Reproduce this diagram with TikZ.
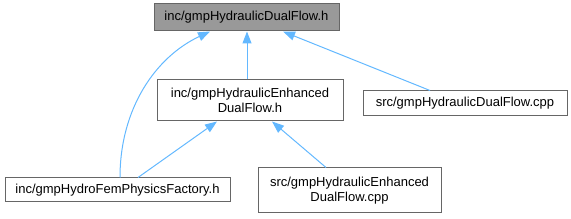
\documentclass[tikz,border=0pt]{standalone}
\usepackage{fontspec}
\setmainfont{Liberation Sans}
\usetikzlibrary{arrows.meta}
\definecolor{edgeblue}{HTML}{63B8FF}
\definecolor{boxborder}{HTML}{666666}
\definecolor{curfill}{HTML}{999999}
\tikzset{
  filebox/.style={draw=boxborder, line width=1pt, fill=white, inner sep=0pt, align=center,
    font=\fontsize{13}{15}\selectfont},
  curbox/.style={filebox, fill=curfill},
  dep/.style={draw=edgeblue, line width=1pt, -{Triangle[length=12pt,width=9pt]}},
}
\begin{document}
\begin{tikzpicture}[x=1pt,y=-1pt]
\useasboundingbox (0,0) rectangle (571,219);
\node[curbox, minimum width=185pt, minimum height=27pt] (top) at (246.5,17.5) {inc/gmpHydraulicDualFlow.h};
\node[filebox, minimum width=186pt, minimum height=41pt] (mid) at (250,100.5) {inc/gmpHydraulicEnhanced\\DualFlow.h};
\node[filebox, minimum width=204pt, minimum height=25pt] (right) at (465,103.5) {src/gmpHydraulicDualFlow.cpp};
\node[filebox, minimum width=225pt, minimum height=24pt] (bl) at (117.5,190) {inc/gmpHydroFemPhysicsFactory.h};
\node[filebox, minimum width=183pt, minimum height=45pt] (bm) at (349.5,190.5) {src/gmpHydraulicEnhanced\\DualFlow.cpp};
\draw[dep] ([xshift=-3pt]mid.north) -- ([xshift=0.5pt]top.south);
\draw[dep] ([xshift=-35pt]right.north) -- ([xshift=36.5pt]top.south);
\draw[dep] ([xshift=2.5pt]bl.north) .. controls ([xshift=2.5pt,yshift=70pt]bl.north) and ([xshift=-90pt,yshift=-25pt]top.south) .. ([xshift=-36.5pt]top.south);
\draw[dep] ([xshift=20.5pt]bl.north) -- ([xshift=-33pt]mid.south);
\draw[dep] ([xshift=-23.5pt]bm.north) -- ([xshift=22pt]mid.south);
\end{tikzpicture}
\end{document}
